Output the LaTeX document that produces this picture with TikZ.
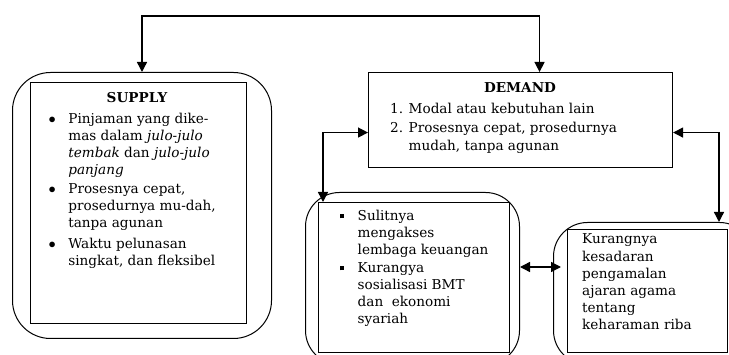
\documentclass[tikz,border=0pt]{standalone}
\usepackage{fontspec}
\setmainfont{DejaVu Serif}
\usetikzlibrary{arrows.meta}
\newcommand{\sqbul}{\raisebox{2.5pt}{\rule{4.5pt}{4.5pt}}}
\begin{document}
\begin{tikzpicture}[x=1pt,y=-1pt,
  outerbox/.style={draw,line width=1pt,rounded corners=38pt,anchor=north west,inner sep=0pt},
  innerbox/.style={draw,line width=1.1pt,anchor=north west,inner sep=0pt},
  txt/.style={anchor=base west,inner sep=0pt,font=\fontsize{13.6}{17}\selectfont},
  ttl/.style={anchor=base,inner sep=0pt,font=\fontsize{13.6}{17}\selectfont\bfseries},
  conn/.style={line width=1.4pt,{Triangle[length=10pt,width=10pt]}-{Triangle[length=10pt,width=10pt]}}]
\useasboundingbox (0,0) rectangle (729,355);

% boxes
\node[outerbox,minimum width=259pt,minimum height=266pt] (supOuter) at (12,72) {};
\node[innerbox,minimum width=216pt,minimum height=241pt] (supInner) at (30,82) {};
\node[innerbox,minimum width=304pt,minimum height=95pt] (demand) at (368,72) {};
\node[outerbox,rounded corners=34pt,minimum width=214pt,minimum height=172pt] (lbOuter) at (305,192) {};
\node[innerbox,minimum width=191pt,minimum height=150pt] (lbInner) at (318,202) {};
\node[outerbox,rounded corners=34pt,minimum width=200pt,minimum height=142pt] (rbOuter) at (553,222) {};
\node[innerbox,minimum width=160pt,minimum height=123pt] (rbInner) at (567,229) {};

% texts
\node[ttl] (supTitle) at (137,103) {SUPPLY};
\node[txt] (supText) at (48.5,124) {\begin{tabular}[t]{@{}l@{\hspace{12.5pt}}l@{}}
$\bullet$ & Pinjaman yang dike-\\
 & mas dalam \textit{julo-julo}\\
 & \textit{tembak} dan \textit{julo-julo}\\
 & \textit{panjang}\\[2pt]
$\bullet$ & Prosesnya cepat,\\
 & prosedurnya mu-dah,\\
 & tanpa agunan\\[4pt]
$\bullet$ & Waktu pelunasan\\
 & singkat, dan fleksibel
\end{tabular}};

\node[ttl] (demTitle) at (520,93) {DEMAND};
\node[txt,font=\fontsize{13.6}{18}\selectfont] (demText) at (390,114) {\begin{tabular}[t]{@{}r@{\hspace{5.5pt}}l@{}}
1. & Modal atau kebutuhan lain\\[1pt]
2. & Prosesnya cepat, prosedurnya\\
 & mudah, tanpa agunan
\end{tabular}};

\node[txt] (lbText) at (339.5,221) {\begin{tabular}[t]{@{}l@{\hspace{13.5pt}}l@{}}
\sqbul & Sulitnya\\
 & mengakses\\
 & lembaga keuangan\\[1pt]
\sqbul & Kurangya\\
 & sosialisasi BMT\\
 & dan\ \ ekonomi\\
 & syariah
\end{tabular}};

\node[txt,font=\fontsize{13.6}{17.2}\selectfont] (rbText) at (582,244) {\begin{tabular}[t]{@{}l@{}}
Kurangnya\\
kesadaran\\
pengamalan\\
ajaran agama\\
tentang\\
keharaman riba
\end{tabular}};

% connectors
\coordinate (topY) at (0,16);
\coordinate (demTopPt) at ([xshift=19pt]demand.north);
\draw[conn] (supOuter.north) -- (supOuter.north |- topY) -- (demTopPt |- topY) -- (demTopPt);

\coordinate (lbTopPt) at ([xshift=5pt]lbInner.north west);
\draw[conn] ([yshift=-12.5pt]demand.west) -- ([yshift=-12.5pt]demand.west -| lbTopPt) -- (lbTopPt);

\coordinate (rArrowX) at (719,0);
\draw[conn] ([yshift=-12.5pt]demand.east) -- ([yshift=-12.5pt]demand.east -| rArrowX) -- (rbOuter.north west -| rArrowX);

\coordinate (midY) at (0,267);
\draw[conn] (lbOuter.east |- midY) -- ([xshift=-6pt]rbInner.west |- midY);
\end{tikzpicture}
\end{document}
